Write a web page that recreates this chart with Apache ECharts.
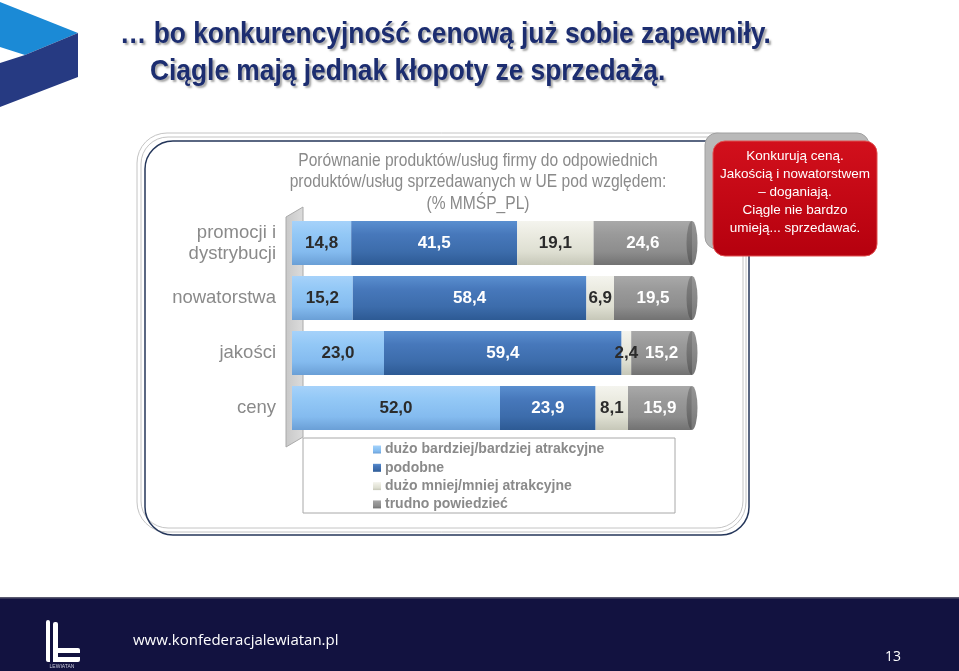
<!DOCTYPE html>
<html>
<head>
<meta charset="utf-8">
<script src="https://cdn.jsdelivr.net/npm/echarts@6/dist/echarts.min.js"></script>
<style>
html,body{margin:0;padding:0;background:#fff;}
#c{width:959px;height:671px;}
</style>
</head>
<body>
<div id="c"></div>
<script>
const categories = ['promocji i\ndystrybucji', 'nowatorstwa', 'jakości', 'ceny'];
const seriesNames = ['dużo bardziej/bardziej atrakcyjne', 'podobne', 'dużo mniej/mniej atrakcyjne', 'trudno powiedzieć'];
const better = [14.8, 15.2, 23.0, 52.0];
const similar = [41.5, 58.4, 59.4, 23.9];
const worse = [19.1, 6.9, 2.4, 8.1];
const hard = [24.6, 19.5, 15.2, 15.9];
const capValues = [100, 100, 100, 100];

const chartTitle = 'Porównanie produktów/usług firmy do odpowiednich\nproduktów/usług sprzedawanych w UE pod względem:\n(% MMŚP_PL)';
const titleLine1 = '… bo konkurencyjność cenową już sobie zapewniły.';
const titleLine2 = 'Ciągle mają jednak kłopoty ze sprzedażą.';
const noteText = 'Konkurują ceną.\nJakością i nowatorstwem\n– doganiają.\nCiągle nie bardzo\numieją... sprzedawać.';
const footerUrl = 'www.konfederacjalewiatan.pl';
const pageNo = '13';

const SANS = "'Liberation Sans', Arial, sans-serif";

function grad(c1, c2, c3, c4) {
  return new echarts.graphic.LinearGradient(0, 0, 0, 1, [
    {offset: 0, color: c1}, {offset: 0.3, color: c2}, {offset: 0.7, color: c3}, {offset: 1, color: c4}
  ]);
}
const fills = [
  grad('#a6d2fa', '#93c8f6', '#84bbef', '#6a9fd6'),
  grad('#5a8fd0', '#4778bb', '#3c6cab', '#2d5a94'),
  grad('#f4f4ee', '#ebebe1', '#dedfd2', '#c6c7b8'),
  grad('#a9a9a9', '#9a9a9a', '#8d8d8d', '#727272')
];
const legendColors = ['#8ec4f2', '#4272b2', '#e9e9de', '#a3a3a3'];
const labelColors = ['#2b2b2b', '#ffffff', '#2b2b2b', '#ffffff'];
const dataSets = [better, similar, worse, hard];

const fmt = p => p.value.toFixed(1).replace('.', ',');

const series = dataSets.map((d, i) => ({
  name: seriesNames[i],
  type: 'bar',
  stack: 'all',
  data: d,
  barWidth: 44,
  itemStyle: {color: fills[i]},
  label: {
    show: true, position: 'inside', formatter: fmt,
    color: labelColors[i], fontFamily: SANS, fontWeight: 'bold', fontSize: 17
  },
  emphasis: {disabled: true},
  z: 3
}));
series.push({
  type: 'scatter',
  data: capValues,
  symbol: 'circle',
  symbolSize: [11, 44],
  itemStyle: {color: new echarts.graphic.LinearGradient(0, 0, 0, 1, [
    {offset: 0, color: '#7a7a7a'}, {offset: 0.5, color: '#6a6a6a'}, {offset: 1, color: '#555'}
  ])},
  silent: true,
  z: 4
});

const titleStyle = {x: 0, y: 0, fill: '#1c2d70', fontFamily: SANS, fontWeight: 'bold', fontSize: 30,
  textAlign: 'left', textVerticalAlign: 'middle', textShadowColor: 'rgba(0,0,0,0.35)', textShadowOffsetX: 2, textShadowOffsetY: 2, textShadowBlur: 2};

const graphic = [
  // top-left logo
  {type: 'polygon', shape: {points: [[0, 2], [78, 33], [25, 55], [0, 47]]}, style: {fill: '#1b8ad6'}, z: 1},
  {type: 'polygon', shape: {points: [[78, 33], [78, 77], [0, 107], [0, 63], [25, 55]]}, style: {fill: '#263a82'}, z: 1},
  // titles
  {type: 'text', x: 120, y: 35, scaleX: 0.878, z: 10, style: Object.assign({text: titleLine1}, titleStyle)},
  {type: 'text', x: 150, y: 72, scaleX: 0.878, z: 10, style: Object.assign({text: titleLine2}, titleStyle)},
  // frame
  {type: 'rect', shape: {x: 137, y: 133, width: 609, height: 399, r: 30}, style: {fill: 'none', stroke: '#c4c4c4', lineWidth: 1}, z: -2},
  {type: 'rect', shape: {x: 141, y: 137, width: 602, height: 391, r: 27}, style: {fill: 'none', stroke: '#c4c4c4', lineWidth: 1}, z: -2},
  {type: 'rect', shape: {x: 145, y: 141, width: 604, height: 394, r: 28}, style: {fill: 'none', stroke: '#24365a', lineWidth: 1.5}, z: -2},
  // chart title
  {type: 'text', x: 478, y: 182, scaleX: 0.82, z: 5, style: {
    text: chartTitle, x: 0, y: 0, fill: '#8a8a8a', fontFamily: SANS, fontSize: 19, lineHeight: 21.5,
    textAlign: 'center', textVerticalAlign: 'middle'}},
  // wall
  {type: 'polygon', shape: {points: [[286, 217], [303, 207], [303, 437], [286, 447]]},
    style: {fill: new echarts.graphic.LinearGradient(0, 0, 1, 0, [{offset: 0, color: '#c8c8c8'}, {offset: 1, color: '#dcdcdc'}]), stroke: '#aaaaaa', lineWidth: 1}, z: -1},
  // legend box
  {type: 'rect', shape: {x: 303, y: 438, width: 372, height: 75}, style: {fill: '#fff', stroke: '#a8a8a8', lineWidth: 1}, z: -1},
  // red note box
  {type: 'rect', shape: {x: 705, y: 133, width: 164, height: 116, r: 12}, style: {fill: '#b9b9b9', stroke: '#a0a0a0', lineWidth: 1}, z: 6},
  {type: 'rect', shape: {x: 713, y: 141, width: 164, height: 115, r: 12},
    style: {fill: new echarts.graphic.LinearGradient(0, 0, 0, 1, [{offset: 0, color: '#d2101c'}, {offset: 1, color: '#b5000e'}]), stroke: '#e05050', lineWidth: 1}, z: 7},
  {type: 'text', x: 795, y: 192, z: 8, style: {
    text: noteText, x: 0, y: 0, fill: '#ffffff', fontFamily: SANS, fontSize: 13.5, lineHeight: 18,
    textAlign: 'center', textVerticalAlign: 'middle'}},
  // footer
  {type: 'rect', shape: {x: 0, y: 598, width: 959, height: 73}, style: {fill: '#121240'}, z: 1},
  {type: 'rect', shape: {x: 0, y: 597, width: 959, height: 1.5}, style: {fill: '#5a5a70'}, z: 1},
  {type: 'rect', shape: {x: 46, y: 620, width: 4, height: 42, r: [2, 2, 0, 2]}, style: {fill: '#ffffff'}, z: 2},
  {type: 'rect', shape: {x: 53, y: 622, width: 5, height: 40, r: [2, 2, 0, 0]}, style: {fill: '#ffffff'}, z: 2},
  {type: 'rect', shape: {x: 53, y: 648, width: 27, height: 5, r: [0, 2, 0, 0]}, style: {fill: '#ffffff'}, z: 2},
  {type: 'rect', shape: {x: 53, y: 657, width: 27, height: 5, r: [0, 0, 2, 2]}, style: {fill: '#ffffff'}, z: 2},
  {type: 'text', x: 62, y: 667, z: 2, style: {text: 'LEWIATAN', x: 0, y: 0, fill: '#c8c8d8', fontFamily: SANS, fontSize: 5, textAlign: 'center', textVerticalAlign: 'middle'}},
  {type: 'text', x: 133, y: 641, z: 2, style: {text: footerUrl, x: 0, y: 0, fill: '#ffffff', fontFamily: "'Open Sans', sans-serif", fontSize: 15, textAlign: 'left', textVerticalAlign: 'middle'}},
  {type: 'text', x: 893, y: 657, z: 2, style: {text: pageNo, x: 0, y: 0, fill: '#ffffff', fontFamily: "'Open Sans', sans-serif", fontSize: 14, textAlign: 'center', textVerticalAlign: 'middle'}}
];

const chart = echarts.init(document.getElementById('c'), null, {renderer: 'canvas'});
chart.setOption({
  backgroundColor: '#ffffff',
  animation: false,
  grid: {left: 292, top: 215.5, width: 400, height: 220, containLabel: false},
  xAxis: {type: 'value', min: 0, max: 100, show: false},
  yAxis: {
    type: 'category', data: categories, inverse: true,
    axisLine: {show: false}, axisTick: {show: false}, splitLine: {show: false},
    axisLabel: {color: '#8a8a8a', fontFamily: SANS, fontSize: 18.5, lineHeight: 21, margin: 16, align: 'right'}
  },
  legend: {
    data: seriesNames, orient: 'vertical', left: 373, top: 442.5,
    itemWidth: 8, itemHeight: 8, itemGap: 4.3, icon: 'rect', selectedMode: false,
    textStyle: {color: '#8a8a8a', fontFamily: SANS, fontWeight: 'bold', fontSize: 14, lineHeight: 14, padding: [0, 0, 0, -1]},
    padding: 0
  },
  color: legendColors,
  series: series,
  graphic: graphic
});
</script>
</body>
</html>
